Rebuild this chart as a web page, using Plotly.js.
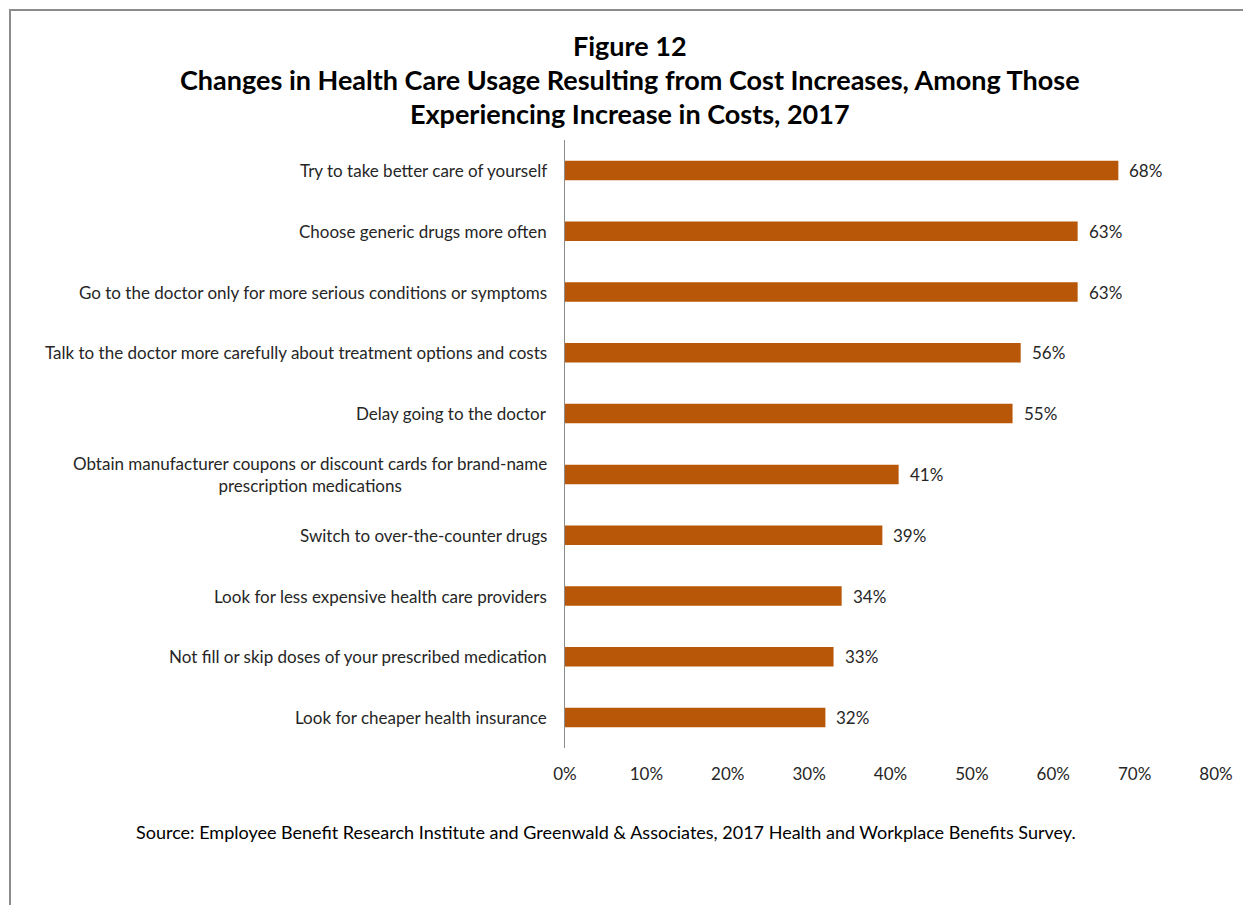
<!DOCTYPE html>
<html>
<head>
<meta charset="utf-8">
<script src="https://cdn.plot.ly/plotly-3.0.1.min.js"></script>
<style>
  html, body { margin: 0; padding: 0; background: #fff; }
  #wrap { position: relative; width: 1243px; height: 905px; overflow: hidden; }
  #chart { width: 1243px; height: 905px; }
  #frame { position: absolute; left: 9px; top: 9px; width: 1300px; height: 1000px;
           border-left: 2px solid #8c8c8c; border-top: 2px solid #8c8c8c; pointer-events: none; }
</style>
</head>
<body>
<div id="wrap">
  <div id="chart"></div>
  <div id="frame"></div>
</div>
<script>
const categories = [
  "Try to take better care of yourself",
  "Choose generic drugs more often",
  "Go to the doctor only for more serious conditions or symptoms",
  "Talk to the doctor more carefully about treatment options and costs",
  "Delay going to the doctor",
  "Obtain manufacturer coupons or discount cards for brand-name<br>prescription medications",
  "Switch to over-the-counter drugs",
  "Look for less expensive health care providers",
  "Not fill or skip doses of your prescribed medication",
  "Look for cheaper health insurance"
];
const values = [68, 63, 63, 56, 55, 41, 39, 34, 33, 32];
const xTickVals = [0, 10, 20, 30, 40, 50, 60, 70, 80];
const xTickText = ["0%", "10%", "20%", "30%", "40%", "50%", "60%", "70%", "80%"];
const titleLines = [
  "Figure 12",
  "Changes in Health Care Usage Resulting from Cost Increases, Among Those",
  "Experiencing Increase in Costs, 2017"
];
const sourceText = "Source: Employee Benefit Research Institute and Greenwald &amp; Associates, 2017 Health and Workplace Benefits Survey.";

const FONT = "Lato, 'Open Sans', sans-serif";
const barColor = "#B85708";

// plot area in pixels
const L = 565, R = 1216, T = 140, B = 748;
const px2paperX = px => (px - L) / (R - L);
const px2paperY = py => (B - py) / (B - T);

const trace = {
  type: "bar",
  orientation: "h",
  y: categories,
  x: values,
  marker: { color: barColor },
  width: 0.32,
  hoverinfo: "none"
};

const annotations = [];
categories.forEach((c, i) => {
  annotations.push({
    x: 0, y: c, xref: "x", yref: "y",
    text: c, showarrow: false,
    xanchor: "right", yanchor: "middle", align: "center",
    xshift: -16,
    font: { family: FONT, size: 17, color: "#262626" }
  });
  annotations.push({
    x: values[i], y: c, xref: "x", yref: "y",
    text: values[i] + "%", showarrow: false,
    xanchor: "left", yanchor: "middle",
    xshift: 9,
    font: { family: FONT, size: 17, color: "#262626" }
  });
});
const titleY = [45, 79, 113];
titleLines.forEach((t, i) => {
  annotations.push({
    x: px2paperX(630), y: px2paperY(titleY[i]), xref: "paper", yref: "paper",
    text: "<b>" + t + "</b>", showarrow: false, xanchor: "center", yanchor: "middle",
    font: { family: FONT, size: 27, color: "#000" }
  });
});
annotations.push({
  x: px2paperX(606), y: px2paperY(832), xref: "paper", yref: "paper",
  text: sourceText, showarrow: false, xanchor: "center", yanchor: "middle",
  font: { family: FONT, size: 18, color: "#000" }
});

const layout = {
  width: 1243, height: 905,
  margin: { l: L, r: 1243 - R, t: T, b: 905 - B },
  paper_bgcolor: "#fff", plot_bgcolor: "#fff",
  showlegend: false,
  xaxis: {
    range: [0, 80], tickvals: xTickVals, ticktext: xTickText,
    showgrid: false, zeroline: false, showline: false, ticks: "",
    ticklabelstandoff: 14,
    tickfont: { family: FONT, size: 17, color: "#262626" },
    fixedrange: true
  },
  yaxis: {
    type: "category", autorange: "reversed",
    showticklabels: false, ticks: "", showgrid: false, zeroline: false,
    showline: true, linecolor: "#8c8c8c", linewidth: 1,
    fixedrange: true
  },
  annotations: annotations
};

Plotly.newPlot("chart", [trace], layout, { displayModeBar: false, staticPlot: true });
</script>
</body>
</html>
